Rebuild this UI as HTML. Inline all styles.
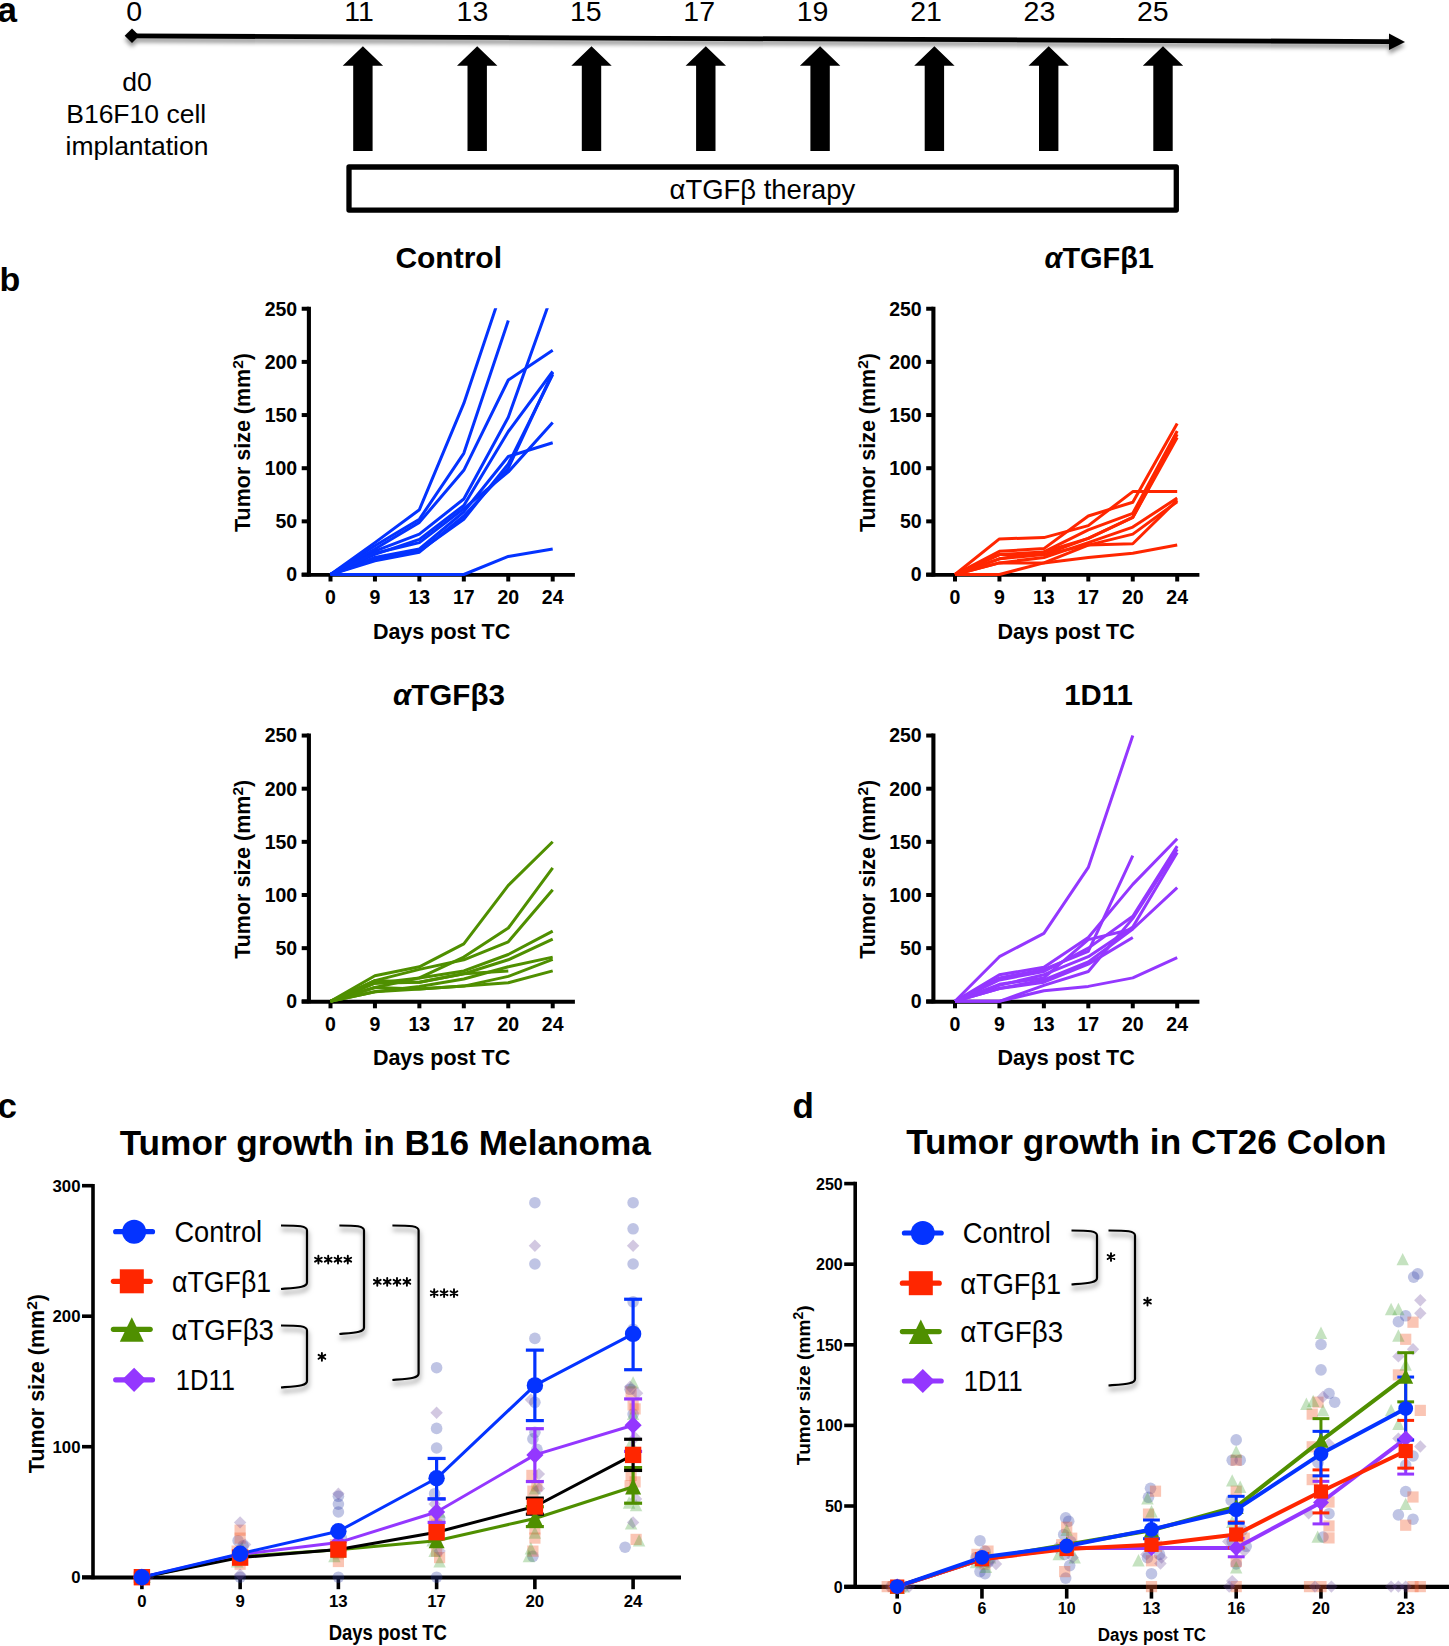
<!DOCTYPE html><html><head><meta charset="utf-8"><style>html,body{margin:0;padding:0;background:#fff;}svg{display:block;}</style></head><body>
<svg width="1449" height="1646" viewBox="0 0 1449 1646" font-family='"Liberation Sans", sans-serif'>
<defs><filter id="sh" x="-5%" y="-100%" width="110%" height="400%"><feDropShadow dx="0" dy="4" stdDeviation="2.3" flood-color="#000" flood-opacity="0.42"/></filter><filter id="sh2" x="-50%" y="-20%" width="200%" height="150%"><feDropShadow dx="0.5" dy="4" stdDeviation="2.6" flood-color="#000" flood-opacity="0.5"/></filter></defs>
<rect width="1449" height="1646" fill="#fff"/>
<text x="-2.50" y="21.70" font-size="35" font-weight="bold" text-anchor="start" fill="#000" >a</text>
<g filter="url(#sh)">
<path d="M132,35.9 L1390,41.6" stroke="#000" stroke-width="4.8" fill="none"/>
<path d="M1389,33.6 L1405,42 L1389,50 Z" fill="#000"/>
<path d="M132,28.6 L139.3,35.8 L132,43 L124.7,35.8 Z" fill="#000"/>
</g>
<path d="M362.9,46.2 L383.1,65.7 L372.6,65.7 L372.6,150.9 L353.2,150.9 L353.2,65.7 L342.7,65.7 Z" fill="#000"/>
<path d="M477.2,46.2 L497.4,65.7 L486.9,65.7 L486.9,150.9 L467.5,150.9 L467.5,65.7 L457.0,65.7 Z" fill="#000"/>
<path d="M591.5,46.2 L611.7,65.7 L601.2,65.7 L601.2,150.9 L581.8,150.9 L581.8,65.7 L571.3,65.7 Z" fill="#000"/>
<path d="M705.8,46.2 L726.0,65.7 L715.5,65.7 L715.5,150.9 L696.1,150.9 L696.1,65.7 L685.6,65.7 Z" fill="#000"/>
<path d="M820.1,46.2 L840.3,65.7 L829.8,65.7 L829.8,150.9 L810.4,150.9 L810.4,65.7 L799.9,65.7 Z" fill="#000"/>
<path d="M934.4,46.2 L954.6,65.7 L944.1,65.7 L944.1,150.9 L924.7,150.9 L924.7,65.7 L914.2,65.7 Z" fill="#000"/>
<path d="M1048.7,46.2 L1068.9,65.7 L1058.4,65.7 L1058.4,150.9 L1039.0,150.9 L1039.0,65.7 L1028.5,65.7 Z" fill="#000"/>
<path d="M1163.0,46.2 L1183.2,65.7 L1172.7,65.7 L1172.7,150.9 L1153.3,150.9 L1153.3,65.7 L1142.8,65.7 Z" fill="#000"/>
<rect x="349" y="167" width="827.3" height="43.1" fill="none" stroke="#000" stroke-width="5.3" stroke-linejoin="round"/>
<text x="134.20" y="21.30" font-size="28.5" font-weight="normal" text-anchor="middle" fill="#000" >0</text>
<text x="359.00" y="21.30" font-size="28.5" font-weight="normal" text-anchor="middle" fill="#000" >11</text>
<text x="472.40" y="21.30" font-size="28.5" font-weight="normal" text-anchor="middle" fill="#000" >13</text>
<text x="585.80" y="21.30" font-size="28.5" font-weight="normal" text-anchor="middle" fill="#000" >15</text>
<text x="699.20" y="21.30" font-size="28.5" font-weight="normal" text-anchor="middle" fill="#000" >17</text>
<text x="812.60" y="21.30" font-size="28.5" font-weight="normal" text-anchor="middle" fill="#000" >19</text>
<text x="926.00" y="21.30" font-size="28.5" font-weight="normal" text-anchor="middle" fill="#000" >21</text>
<text x="1039.40" y="21.30" font-size="28.5" font-weight="normal" text-anchor="middle" fill="#000" >23</text>
<text x="1152.80" y="21.30" font-size="28.5" font-weight="normal" text-anchor="middle" fill="#000" >25</text>
<text x="137.00" y="91.00" font-size="26.5" font-weight="normal" text-anchor="middle" fill="#000" >d0</text>
<text x="136.20" y="123.00" font-size="26.5" font-weight="normal" text-anchor="middle" fill="#000" >B16F10 cell</text>
<text x="137.00" y="154.50" font-size="26.5" font-weight="normal" text-anchor="middle" fill="#000" >implantation</text>
<text x="762.40" y="199.20" font-size="28" font-weight="normal" text-anchor="middle" fill="#000" textLength="185.8" lengthAdjust="spacingAndGlyphs" >αTGFβ therapy</text>
<text x="-0.50" y="290.80" font-size="34" font-weight="bold" text-anchor="start" fill="#000" >b</text>
<clipPath id="c1"><rect x="300.5" y="308.2" width="300" height="275.8"/></clipPath>
<line x1="308.90" y1="306.75" x2="308.90" y2="576.50" stroke="#000" stroke-width="4.1" stroke-linecap="butt" />
<line x1="301.70" y1="574.90" x2="574.90" y2="574.90" stroke="#000" stroke-width="3.9" stroke-linecap="butt" />
<line x1="301.70" y1="574.50" x2="308.90" y2="574.50" stroke="#000" stroke-width="4" stroke-linecap="butt" />
<text x="297.20" y="581.40" font-size="19.5" font-weight="bold" text-anchor="end" fill="#000" >0</text>
<line x1="301.70" y1="521.35" x2="308.90" y2="521.35" stroke="#000" stroke-width="4" stroke-linecap="butt" />
<text x="297.20" y="528.25" font-size="19.5" font-weight="bold" text-anchor="end" fill="#000" >50</text>
<line x1="301.70" y1="468.20" x2="308.90" y2="468.20" stroke="#000" stroke-width="4" stroke-linecap="butt" />
<text x="297.20" y="475.10" font-size="19.5" font-weight="bold" text-anchor="end" fill="#000" >100</text>
<line x1="301.70" y1="415.05" x2="308.90" y2="415.05" stroke="#000" stroke-width="4" stroke-linecap="butt" />
<text x="297.20" y="421.95" font-size="19.5" font-weight="bold" text-anchor="end" fill="#000" >150</text>
<line x1="301.70" y1="361.90" x2="308.90" y2="361.90" stroke="#000" stroke-width="4" stroke-linecap="butt" />
<text x="297.20" y="368.80" font-size="19.5" font-weight="bold" text-anchor="end" fill="#000" >200</text>
<line x1="301.70" y1="308.75" x2="308.90" y2="308.75" stroke="#000" stroke-width="4" stroke-linecap="butt" />
<text x="297.20" y="315.65" font-size="19.5" font-weight="bold" text-anchor="end" fill="#000" >250</text>
<line x1="330.50" y1="574.50" x2="330.50" y2="581.50" stroke="#000" stroke-width="4" stroke-linecap="butt" />
<text x="330.50" y="603.80" font-size="19.5" font-weight="bold" text-anchor="middle" fill="#000" >0</text>
<line x1="374.94" y1="574.50" x2="374.94" y2="581.50" stroke="#000" stroke-width="4" stroke-linecap="butt" />
<text x="374.94" y="603.80" font-size="19.5" font-weight="bold" text-anchor="middle" fill="#000" >9</text>
<line x1="419.38" y1="574.50" x2="419.38" y2="581.50" stroke="#000" stroke-width="4" stroke-linecap="butt" />
<text x="419.38" y="603.80" font-size="19.5" font-weight="bold" text-anchor="middle" fill="#000" >13</text>
<line x1="463.82" y1="574.50" x2="463.82" y2="581.50" stroke="#000" stroke-width="4" stroke-linecap="butt" />
<text x="463.82" y="603.80" font-size="19.5" font-weight="bold" text-anchor="middle" fill="#000" >17</text>
<line x1="508.26" y1="574.50" x2="508.26" y2="581.50" stroke="#000" stroke-width="4" stroke-linecap="butt" />
<text x="508.26" y="603.80" font-size="19.5" font-weight="bold" text-anchor="middle" fill="#000" >20</text>
<line x1="552.70" y1="574.50" x2="552.70" y2="581.50" stroke="#000" stroke-width="4" stroke-linecap="butt" />
<text x="552.70" y="603.80" font-size="19.5" font-weight="bold" text-anchor="middle" fill="#000" >24</text>
<g clip-path="url(#c1)" fill="none" stroke="#0433FF" stroke-width="3" stroke-linejoin="round">
<polyline points="330.5,574.5 374.9,542.6 419.4,509.7 463.8,403.4 508.3,270.5"/>
<polyline points="330.5,574.5 374.9,545.8 419.4,519.2 463.8,453.3 508.3,320.4"/>
<polyline points="330.5,574.5 374.9,551.1 419.4,534.1 463.8,499.0 508.3,417.2 552.7,292.8"/>
<polyline points="330.5,574.5 374.9,549.0 419.4,522.4 463.8,470.3 508.3,380.0 552.7,350.2"/>
<polyline points="330.5,574.5 374.9,554.3 419.4,539.4 463.8,505.4 508.3,431.5 552.7,371.5"/>
<polyline points="330.5,574.5 374.9,557.5 419.4,549.0 463.8,511.8 508.3,456.5 552.7,442.7"/>
<polyline points="330.5,574.5 374.9,559.6 419.4,551.1 463.8,519.2 508.3,463.9 552.7,374.7"/>
<polyline points="330.5,574.5 374.9,553.2 419.4,542.6 463.8,508.6 508.3,471.9 552.7,422.5"/>
<polyline points="330.5,574.5 374.9,574.5 419.4,574.5 463.8,574.5 508.3,556.4 552.7,549.0"/>
<polyline points="330.5,574.5 374.9,560.7 419.4,552.2 463.8,516.0 508.3,468.2 552.7,372.5"/>
</g>
<text x="448.7" y="268.0" font-size="30" font-weight="bold" text-anchor="middle" fill="#000">Control</text>
<text x="441.60" y="638.50" font-size="21.5" font-weight="bold" text-anchor="middle" fill="#000" >Days post TC</text>
<text transform="translate(250.4,442.5) rotate(-90)" font-size="21.5" font-weight="bold" text-anchor="middle" fill="#000">Tumor size (mm<tspan font-size="15.5" dy="-7">2</tspan><tspan dy="7">)</tspan></text>
<clipPath id="c2"><rect x="925.0" y="308.2" width="300" height="275.8"/></clipPath>
<line x1="933.40" y1="306.75" x2="933.40" y2="576.50" stroke="#000" stroke-width="4.1" stroke-linecap="butt" />
<line x1="926.20" y1="574.90" x2="1199.40" y2="574.90" stroke="#000" stroke-width="3.9" stroke-linecap="butt" />
<line x1="926.20" y1="574.50" x2="933.40" y2="574.50" stroke="#000" stroke-width="4" stroke-linecap="butt" />
<text x="921.70" y="581.40" font-size="19.5" font-weight="bold" text-anchor="end" fill="#000" >0</text>
<line x1="926.20" y1="521.35" x2="933.40" y2="521.35" stroke="#000" stroke-width="4" stroke-linecap="butt" />
<text x="921.70" y="528.25" font-size="19.5" font-weight="bold" text-anchor="end" fill="#000" >50</text>
<line x1="926.20" y1="468.20" x2="933.40" y2="468.20" stroke="#000" stroke-width="4" stroke-linecap="butt" />
<text x="921.70" y="475.10" font-size="19.5" font-weight="bold" text-anchor="end" fill="#000" >100</text>
<line x1="926.20" y1="415.05" x2="933.40" y2="415.05" stroke="#000" stroke-width="4" stroke-linecap="butt" />
<text x="921.70" y="421.95" font-size="19.5" font-weight="bold" text-anchor="end" fill="#000" >150</text>
<line x1="926.20" y1="361.90" x2="933.40" y2="361.90" stroke="#000" stroke-width="4" stroke-linecap="butt" />
<text x="921.70" y="368.80" font-size="19.5" font-weight="bold" text-anchor="end" fill="#000" >200</text>
<line x1="926.20" y1="308.75" x2="933.40" y2="308.75" stroke="#000" stroke-width="4" stroke-linecap="butt" />
<text x="921.70" y="315.65" font-size="19.5" font-weight="bold" text-anchor="end" fill="#000" >250</text>
<line x1="955.00" y1="574.50" x2="955.00" y2="581.50" stroke="#000" stroke-width="4" stroke-linecap="butt" />
<text x="955.00" y="603.80" font-size="19.5" font-weight="bold" text-anchor="middle" fill="#000" >0</text>
<line x1="999.44" y1="574.50" x2="999.44" y2="581.50" stroke="#000" stroke-width="4" stroke-linecap="butt" />
<text x="999.44" y="603.80" font-size="19.5" font-weight="bold" text-anchor="middle" fill="#000" >9</text>
<line x1="1043.88" y1="574.50" x2="1043.88" y2="581.50" stroke="#000" stroke-width="4" stroke-linecap="butt" />
<text x="1043.88" y="603.80" font-size="19.5" font-weight="bold" text-anchor="middle" fill="#000" >13</text>
<line x1="1088.32" y1="574.50" x2="1088.32" y2="581.50" stroke="#000" stroke-width="4" stroke-linecap="butt" />
<text x="1088.32" y="603.80" font-size="19.5" font-weight="bold" text-anchor="middle" fill="#000" >17</text>
<line x1="1132.76" y1="574.50" x2="1132.76" y2="581.50" stroke="#000" stroke-width="4" stroke-linecap="butt" />
<text x="1132.76" y="603.80" font-size="19.5" font-weight="bold" text-anchor="middle" fill="#000" >20</text>
<line x1="1177.20" y1="574.50" x2="1177.20" y2="581.50" stroke="#000" stroke-width="4" stroke-linecap="butt" />
<text x="1177.20" y="603.80" font-size="19.5" font-weight="bold" text-anchor="middle" fill="#000" >24</text>
<g clip-path="url(#c2)" fill="none" stroke="#FF2600" stroke-width="3" stroke-linejoin="round">
<polyline points="955.0,574.5 999.4,538.9 1043.9,537.6 1088.3,525.6 1132.8,491.6 1177.2,491.6"/>
<polyline points="955.0,574.5 999.4,551.3 1043.9,548.6 1088.3,516.0 1132.8,502.2 1177.2,423.6"/>
<polyline points="955.0,574.5 999.4,554.6 1043.9,551.9 1088.3,529.9 1132.8,513.3 1177.2,431.0"/>
<polyline points="955.0,574.5 999.4,558.8 1043.9,554.6 1088.3,538.4 1132.8,517.4 1177.2,437.4"/>
<polyline points="955.0,574.5 999.4,562.9 1043.9,557.5 1088.3,542.6 1132.8,527.1 1177.2,498.0"/>
<polyline points="955.0,574.5 999.4,554.6 1043.9,554.6 1088.3,545.1 1132.8,534.1 1177.2,501.7"/>
<polyline points="955.0,574.5 999.4,574.5 1043.9,562.9 1088.3,545.1 1132.8,543.7 1177.2,500.1"/>
<polyline points="955.0,574.5 999.4,562.9 1043.9,562.9 1088.3,557.5 1132.8,553.2 1177.2,545.1"/>
<polyline points="955.0,574.5 999.4,558.8 1043.9,551.9 1088.3,538.4 1132.8,517.4 1177.2,434.2"/>
</g>
<text x="1099.2" y="267.6" font-size="30" font-weight="bold" text-anchor="middle" fill="#000" textLength="109.5" lengthAdjust="spacingAndGlyphs"><tspan font-style="italic">α</tspan>TGFβ1</text>
<text x="1066.10" y="638.50" font-size="21.5" font-weight="bold" text-anchor="middle" fill="#000" >Days post TC</text>
<text transform="translate(874.9,442.5) rotate(-90)" font-size="21.5" font-weight="bold" text-anchor="middle" fill="#000">Tumor size (mm<tspan font-size="15.5" dy="-7">2</tspan><tspan dy="7">)</tspan></text>
<clipPath id="c3"><rect x="300.5" y="735.0" width="300" height="275.8"/></clipPath>
<line x1="308.90" y1="733.55" x2="308.90" y2="1003.30" stroke="#000" stroke-width="4.1" stroke-linecap="butt" />
<line x1="301.70" y1="1001.70" x2="574.90" y2="1001.70" stroke="#000" stroke-width="3.9" stroke-linecap="butt" />
<line x1="301.70" y1="1001.30" x2="308.90" y2="1001.30" stroke="#000" stroke-width="4" stroke-linecap="butt" />
<text x="297.20" y="1008.20" font-size="19.5" font-weight="bold" text-anchor="end" fill="#000" >0</text>
<line x1="301.70" y1="948.15" x2="308.90" y2="948.15" stroke="#000" stroke-width="4" stroke-linecap="butt" />
<text x="297.20" y="955.05" font-size="19.5" font-weight="bold" text-anchor="end" fill="#000" >50</text>
<line x1="301.70" y1="895.00" x2="308.90" y2="895.00" stroke="#000" stroke-width="4" stroke-linecap="butt" />
<text x="297.20" y="901.90" font-size="19.5" font-weight="bold" text-anchor="end" fill="#000" >100</text>
<line x1="301.70" y1="841.85" x2="308.90" y2="841.85" stroke="#000" stroke-width="4" stroke-linecap="butt" />
<text x="297.20" y="848.75" font-size="19.5" font-weight="bold" text-anchor="end" fill="#000" >150</text>
<line x1="301.70" y1="788.70" x2="308.90" y2="788.70" stroke="#000" stroke-width="4" stroke-linecap="butt" />
<text x="297.20" y="795.60" font-size="19.5" font-weight="bold" text-anchor="end" fill="#000" >200</text>
<line x1="301.70" y1="735.55" x2="308.90" y2="735.55" stroke="#000" stroke-width="4" stroke-linecap="butt" />
<text x="297.20" y="742.45" font-size="19.5" font-weight="bold" text-anchor="end" fill="#000" >250</text>
<line x1="330.50" y1="1001.30" x2="330.50" y2="1008.30" stroke="#000" stroke-width="4" stroke-linecap="butt" />
<text x="330.50" y="1030.60" font-size="19.5" font-weight="bold" text-anchor="middle" fill="#000" >0</text>
<line x1="374.94" y1="1001.30" x2="374.94" y2="1008.30" stroke="#000" stroke-width="4" stroke-linecap="butt" />
<text x="374.94" y="1030.60" font-size="19.5" font-weight="bold" text-anchor="middle" fill="#000" >9</text>
<line x1="419.38" y1="1001.30" x2="419.38" y2="1008.30" stroke="#000" stroke-width="4" stroke-linecap="butt" />
<text x="419.38" y="1030.60" font-size="19.5" font-weight="bold" text-anchor="middle" fill="#000" >13</text>
<line x1="463.82" y1="1001.30" x2="463.82" y2="1008.30" stroke="#000" stroke-width="4" stroke-linecap="butt" />
<text x="463.82" y="1030.60" font-size="19.5" font-weight="bold" text-anchor="middle" fill="#000" >17</text>
<line x1="508.26" y1="1001.30" x2="508.26" y2="1008.30" stroke="#000" stroke-width="4" stroke-linecap="butt" />
<text x="508.26" y="1030.60" font-size="19.5" font-weight="bold" text-anchor="middle" fill="#000" >20</text>
<line x1="552.70" y1="1001.30" x2="552.70" y2="1008.30" stroke="#000" stroke-width="4" stroke-linecap="butt" />
<text x="552.70" y="1030.60" font-size="19.5" font-weight="bold" text-anchor="middle" fill="#000" >24</text>
<g clip-path="url(#c3)" fill="none" stroke="#4F8F00" stroke-width="3" stroke-linejoin="round">
<polyline points="330.5,1001.3 374.9,975.8 419.4,966.8 463.8,943.9 508.3,885.4 552.7,841.8"/>
<polyline points="330.5,1001.3 374.9,980.6 419.4,969.4 463.8,959.8 508.3,941.8 552.7,889.7"/>
<polyline points="330.5,1001.3 374.9,983.2 419.4,977.9 463.8,957.1 508.3,928.0 552.7,867.9"/>
<polyline points="330.5,1001.3 374.9,987.5 419.4,977.9 463.8,970.9 508.3,954.5 552.7,931.1"/>
<polyline points="330.5,1001.3 374.9,983.2 419.4,982.2 463.8,973.7 508.3,959.8 552.7,939.1"/>
<polyline points="330.5,1001.3 374.9,991.7 419.4,986.4 463.8,979.0 508.3,966.8 552.7,957.1"/>
<polyline points="330.5,1001.3 374.9,987.5 419.4,988.9 463.8,986.1 508.3,976.4 552.7,959.3"/>
<polyline points="330.5,1001.3 374.9,991.7 419.4,988.9 463.8,986.1 508.3,982.8 552.7,970.9"/>
<polyline points="330.5,1001.3 374.9,980.6 419.4,982.2 463.8,973.7 508.3,970.9"/>
</g>
<text x="448.9" y="705.0" font-size="30" font-weight="bold" text-anchor="middle" fill="#000" textLength="112" lengthAdjust="spacingAndGlyphs"><tspan font-style="italic">α</tspan>TGFβ3</text>
<text x="441.60" y="1065.30" font-size="21.5" font-weight="bold" text-anchor="middle" fill="#000" >Days post TC</text>
<text transform="translate(250.4,869.3) rotate(-90)" font-size="21.5" font-weight="bold" text-anchor="middle" fill="#000">Tumor size (mm<tspan font-size="15.5" dy="-7">2</tspan><tspan dy="7">)</tspan></text>
<clipPath id="c4"><rect x="925.0" y="735.0" width="300" height="275.8"/></clipPath>
<line x1="933.40" y1="733.55" x2="933.40" y2="1003.30" stroke="#000" stroke-width="4.1" stroke-linecap="butt" />
<line x1="926.20" y1="1001.70" x2="1199.40" y2="1001.70" stroke="#000" stroke-width="3.9" stroke-linecap="butt" />
<line x1="926.20" y1="1001.30" x2="933.40" y2="1001.30" stroke="#000" stroke-width="4" stroke-linecap="butt" />
<text x="921.70" y="1008.20" font-size="19.5" font-weight="bold" text-anchor="end" fill="#000" >0</text>
<line x1="926.20" y1="948.15" x2="933.40" y2="948.15" stroke="#000" stroke-width="4" stroke-linecap="butt" />
<text x="921.70" y="955.05" font-size="19.5" font-weight="bold" text-anchor="end" fill="#000" >50</text>
<line x1="926.20" y1="895.00" x2="933.40" y2="895.00" stroke="#000" stroke-width="4" stroke-linecap="butt" />
<text x="921.70" y="901.90" font-size="19.5" font-weight="bold" text-anchor="end" fill="#000" >100</text>
<line x1="926.20" y1="841.85" x2="933.40" y2="841.85" stroke="#000" stroke-width="4" stroke-linecap="butt" />
<text x="921.70" y="848.75" font-size="19.5" font-weight="bold" text-anchor="end" fill="#000" >150</text>
<line x1="926.20" y1="788.70" x2="933.40" y2="788.70" stroke="#000" stroke-width="4" stroke-linecap="butt" />
<text x="921.70" y="795.60" font-size="19.5" font-weight="bold" text-anchor="end" fill="#000" >200</text>
<line x1="926.20" y1="735.55" x2="933.40" y2="735.55" stroke="#000" stroke-width="4" stroke-linecap="butt" />
<text x="921.70" y="742.45" font-size="19.5" font-weight="bold" text-anchor="end" fill="#000" >250</text>
<line x1="955.00" y1="1001.30" x2="955.00" y2="1008.30" stroke="#000" stroke-width="4" stroke-linecap="butt" />
<text x="955.00" y="1030.60" font-size="19.5" font-weight="bold" text-anchor="middle" fill="#000" >0</text>
<line x1="999.44" y1="1001.30" x2="999.44" y2="1008.30" stroke="#000" stroke-width="4" stroke-linecap="butt" />
<text x="999.44" y="1030.60" font-size="19.5" font-weight="bold" text-anchor="middle" fill="#000" >9</text>
<line x1="1043.88" y1="1001.30" x2="1043.88" y2="1008.30" stroke="#000" stroke-width="4" stroke-linecap="butt" />
<text x="1043.88" y="1030.60" font-size="19.5" font-weight="bold" text-anchor="middle" fill="#000" >13</text>
<line x1="1088.32" y1="1001.30" x2="1088.32" y2="1008.30" stroke="#000" stroke-width="4" stroke-linecap="butt" />
<text x="1088.32" y="1030.60" font-size="19.5" font-weight="bold" text-anchor="middle" fill="#000" >17</text>
<line x1="1132.76" y1="1001.30" x2="1132.76" y2="1008.30" stroke="#000" stroke-width="4" stroke-linecap="butt" />
<text x="1132.76" y="1030.60" font-size="19.5" font-weight="bold" text-anchor="middle" fill="#000" >20</text>
<line x1="1177.20" y1="1001.30" x2="1177.20" y2="1008.30" stroke="#000" stroke-width="4" stroke-linecap="butt" />
<text x="1177.20" y="1030.60" font-size="19.5" font-weight="bold" text-anchor="middle" fill="#000" >24</text>
<g clip-path="url(#c4)" fill="none" stroke="#9437FF" stroke-width="3" stroke-linejoin="round">
<polyline points="955.0,1001.3 999.4,956.7 1043.9,933.3 1088.3,867.4 1132.8,735.5"/>
<polyline points="955.0,1001.3 999.4,974.7 1043.9,967.3 1088.3,937.5 1132.8,884.4 1177.2,838.7"/>
<polyline points="955.0,1001.3 999.4,977.9 1043.9,969.4 1088.3,951.3 1132.8,855.7"/>
<polyline points="955.0,1001.3 999.4,980.0 1043.9,971.5 1088.3,948.1 1132.8,916.3 1177.2,846.1"/>
<polyline points="955.0,1001.3 999.4,985.4 1043.9,974.7 1088.3,956.7 1132.8,926.9 1177.2,852.5"/>
<polyline points="955.0,1001.3 999.4,988.5 1043.9,980.0 1088.3,962.0 1132.8,929.0 1177.2,887.6"/>
<polyline points="955.0,1001.3 999.4,988.5 1043.9,982.2 1088.3,964.1 1132.8,937.5"/>
<polyline points="955.0,1001.3 999.4,1001.3 1043.9,985.4 1088.3,971.5 1132.8,918.4 1177.2,849.3"/>
<polyline points="955.0,1001.3 999.4,1001.3 1043.9,990.7 1088.3,986.4 1132.8,977.9 1177.2,957.7"/>
<polyline points="955.0,1001.3 999.4,984.3 1043.9,977.9 1088.3,939.6 1132.8,929.0"/>
</g>
<text x="1098.5" y="705.0" font-size="30" font-weight="bold" text-anchor="middle" fill="#000" textLength="68.5" lengthAdjust="spacingAndGlyphs">1D11</text>
<text x="1066.10" y="1065.30" font-size="21.5" font-weight="bold" text-anchor="middle" fill="#000" >Days post TC</text>
<text transform="translate(874.9,869.3) rotate(-90)" font-size="21.5" font-weight="bold" text-anchor="middle" fill="#000">Tumor size (mm<tspan font-size="15.5" dy="-7">2</tspan><tspan dy="7">)</tspan></text>
<text x="-2.50" y="1117.50" font-size="35" font-weight="bold" text-anchor="start" fill="#000" >c</text>
<text x="385.30" y="1155.00" font-size="35.2" font-weight="bold" text-anchor="middle" fill="#000" >Tumor growth in B16 Melanoma</text>
<line x1="93.00" y1="1183.90" x2="93.00" y2="1579.20" stroke="#000" stroke-width="3.6" stroke-linecap="butt" />
<line x1="82.00" y1="1577.50" x2="681.00" y2="1577.50" stroke="#000" stroke-width="4.2" stroke-linecap="butt" />
<line x1="82.00" y1="1577.20" x2="93.00" y2="1577.20" stroke="#000" stroke-width="3.6" stroke-linecap="butt" />
<text x="80.50" y="1583.20" font-size="16.8" font-weight="bold" text-anchor="end" fill="#000" >0</text>
<line x1="82.00" y1="1446.70" x2="93.00" y2="1446.70" stroke="#000" stroke-width="3.6" stroke-linecap="butt" />
<text x="80.50" y="1452.70" font-size="16.8" font-weight="bold" text-anchor="end" fill="#000" >100</text>
<line x1="82.00" y1="1316.20" x2="93.00" y2="1316.20" stroke="#000" stroke-width="3.6" stroke-linecap="butt" />
<text x="80.50" y="1322.20" font-size="16.8" font-weight="bold" text-anchor="end" fill="#000" >200</text>
<line x1="82.00" y1="1185.70" x2="93.00" y2="1185.70" stroke="#000" stroke-width="3.6" stroke-linecap="butt" />
<text x="80.50" y="1191.70" font-size="16.8" font-weight="bold" text-anchor="end" fill="#000" >300</text>
<line x1="141.90" y1="1577.20" x2="141.90" y2="1589.20" stroke="#000" stroke-width="3.6" stroke-linecap="butt" />
<text x="141.90" y="1606.70" font-size="16.8" font-weight="bold" text-anchor="middle" fill="#000" >0</text>
<line x1="240.14" y1="1577.20" x2="240.14" y2="1589.20" stroke="#000" stroke-width="3.6" stroke-linecap="butt" />
<text x="240.14" y="1606.70" font-size="16.8" font-weight="bold" text-anchor="middle" fill="#000" >9</text>
<line x1="338.38" y1="1577.20" x2="338.38" y2="1589.20" stroke="#000" stroke-width="3.6" stroke-linecap="butt" />
<text x="338.38" y="1606.70" font-size="16.8" font-weight="bold" text-anchor="middle" fill="#000" >13</text>
<line x1="436.62" y1="1577.20" x2="436.62" y2="1589.20" stroke="#000" stroke-width="3.6" stroke-linecap="butt" />
<text x="436.62" y="1606.70" font-size="16.8" font-weight="bold" text-anchor="middle" fill="#000" >17</text>
<line x1="534.86" y1="1577.20" x2="534.86" y2="1589.20" stroke="#000" stroke-width="3.6" stroke-linecap="butt" />
<text x="534.86" y="1606.70" font-size="16.8" font-weight="bold" text-anchor="middle" fill="#000" >20</text>
<line x1="633.10" y1="1577.20" x2="633.10" y2="1589.20" stroke="#000" stroke-width="3.6" stroke-linecap="butt" />
<text x="633.10" y="1606.70" font-size="16.8" font-weight="bold" text-anchor="middle" fill="#000" >24</text>
<circle cx="138.9" cy="1577.2" r="5.8" fill="#3040A8" fill-opacity="0.31"/>
<circle cx="240.1" cy="1551.1" r="5.8" fill="#3040A8" fill-opacity="0.31"/>
<circle cx="238.1" cy="1540.7" r="5.8" fill="#3040A8" fill-opacity="0.31"/>
<circle cx="243.1" cy="1545.9" r="5.8" fill="#3040A8" fill-opacity="0.31"/>
<circle cx="240.1" cy="1577.2" r="5.8" fill="#3040A8" fill-opacity="0.31"/>
<circle cx="338.4" cy="1496.3" r="5.8" fill="#3040A8" fill-opacity="0.31"/>
<circle cx="338.4" cy="1504.1" r="5.8" fill="#3040A8" fill-opacity="0.31"/>
<circle cx="338.4" cy="1512.0" r="5.8" fill="#3040A8" fill-opacity="0.31"/>
<circle cx="338.4" cy="1577.2" r="5.8" fill="#3040A8" fill-opacity="0.31"/>
<circle cx="341.4" cy="1538.0" r="5.8" fill="#3040A8" fill-opacity="0.31"/>
<circle cx="436.6" cy="1367.7" r="5.8" fill="#3040A8" fill-opacity="0.31"/>
<circle cx="436.6" cy="1428.4" r="5.8" fill="#3040A8" fill-opacity="0.31"/>
<circle cx="436.6" cy="1448.0" r="5.8" fill="#3040A8" fill-opacity="0.31"/>
<circle cx="434.6" cy="1493.7" r="5.8" fill="#3040A8" fill-opacity="0.31"/>
<circle cx="436.6" cy="1577.2" r="5.8" fill="#3040A8" fill-opacity="0.31"/>
<circle cx="439.6" cy="1518.5" r="5.8" fill="#3040A8" fill-opacity="0.31"/>
<circle cx="534.9" cy="1202.7" r="5.8" fill="#3040A8" fill-opacity="0.31"/>
<circle cx="534.9" cy="1264.0" r="5.8" fill="#3040A8" fill-opacity="0.31"/>
<circle cx="534.9" cy="1338.4" r="5.8" fill="#3040A8" fill-opacity="0.31"/>
<circle cx="534.9" cy="1402.3" r="5.8" fill="#3040A8" fill-opacity="0.31"/>
<circle cx="534.9" cy="1432.3" r="5.8" fill="#3040A8" fill-opacity="0.31"/>
<circle cx="532.9" cy="1438.9" r="5.8" fill="#3040A8" fill-opacity="0.31"/>
<circle cx="536.9" cy="1449.3" r="5.8" fill="#3040A8" fill-opacity="0.31"/>
<circle cx="532.9" cy="1556.3" r="5.8" fill="#3040A8" fill-opacity="0.31"/>
<circle cx="633.1" cy="1202.7" r="5.8" fill="#3040A8" fill-opacity="0.31"/>
<circle cx="633.1" cy="1228.8" r="5.8" fill="#3040A8" fill-opacity="0.31"/>
<circle cx="633.1" cy="1264.0" r="5.8" fill="#3040A8" fill-opacity="0.31"/>
<circle cx="633.1" cy="1301.8" r="5.8" fill="#3040A8" fill-opacity="0.31"/>
<circle cx="633.1" cy="1329.2" r="5.8" fill="#3040A8" fill-opacity="0.31"/>
<circle cx="630.1" cy="1389.3" r="5.8" fill="#3040A8" fill-opacity="0.31"/>
<circle cx="633.1" cy="1414.1" r="5.8" fill="#3040A8" fill-opacity="0.31"/>
<circle cx="625.1" cy="1547.2" r="5.8" fill="#3040A8" fill-opacity="0.31"/>
<rect x="133.3" y="1571.6" width="11.2" height="11.2" fill="#F05A28" fill-opacity="0.35"/>
<rect x="234.5" y="1524.6" width="11.2" height="11.2" fill="#F05A28" fill-opacity="0.35"/>
<rect x="234.5" y="1532.5" width="11.2" height="11.2" fill="#F05A28" fill-opacity="0.35"/>
<rect x="234.5" y="1558.6" width="11.2" height="11.2" fill="#F05A28" fill-opacity="0.35"/>
<rect x="231.5" y="1545.5" width="11.2" height="11.2" fill="#F05A28" fill-opacity="0.35"/>
<rect x="332.8" y="1548.1" width="11.2" height="11.2" fill="#F05A28" fill-opacity="0.35"/>
<rect x="332.8" y="1555.9" width="11.2" height="11.2" fill="#F05A28" fill-opacity="0.35"/>
<rect x="329.8" y="1539.0" width="11.2" height="11.2" fill="#F05A28" fill-opacity="0.35"/>
<rect x="429.0" y="1511.6" width="11.2" height="11.2" fill="#F05A28" fill-opacity="0.35"/>
<rect x="431.0" y="1519.4" width="11.2" height="11.2" fill="#F05A28" fill-opacity="0.35"/>
<rect x="431.0" y="1545.5" width="11.2" height="11.2" fill="#F05A28" fill-opacity="0.35"/>
<rect x="434.0" y="1552.0" width="11.2" height="11.2" fill="#F05A28" fill-opacity="0.35"/>
<rect x="526.3" y="1469.8" width="11.2" height="11.2" fill="#F05A28" fill-opacity="0.35"/>
<rect x="527.3" y="1485.5" width="11.2" height="11.2" fill="#F05A28" fill-opacity="0.35"/>
<rect x="529.3" y="1523.3" width="11.2" height="11.2" fill="#F05A28" fill-opacity="0.35"/>
<rect x="529.3" y="1532.5" width="11.2" height="11.2" fill="#F05A28" fill-opacity="0.35"/>
<rect x="527.3" y="1545.5" width="11.2" height="11.2" fill="#F05A28" fill-opacity="0.35"/>
<rect x="531.3" y="1480.3" width="11.2" height="11.2" fill="#F05A28" fill-opacity="0.35"/>
<rect x="625.5" y="1386.3" width="11.2" height="11.2" fill="#F05A28" fill-opacity="0.35"/>
<rect x="627.5" y="1399.3" width="11.2" height="11.2" fill="#F05A28" fill-opacity="0.35"/>
<rect x="629.5" y="1403.3" width="11.2" height="11.2" fill="#F05A28" fill-opacity="0.35"/>
<rect x="625.5" y="1469.8" width="11.2" height="11.2" fill="#F05A28" fill-opacity="0.35"/>
<rect x="629.5" y="1476.3" width="11.2" height="11.2" fill="#F05A28" fill-opacity="0.35"/>
<rect x="624.5" y="1480.3" width="11.2" height="11.2" fill="#F05A28" fill-opacity="0.35"/>
<rect x="630.5" y="1533.8" width="11.2" height="11.2" fill="#F05A28" fill-opacity="0.35"/>
<path d="M144.9,1570.7 L151.1,1583.1 L138.7,1583.1 Z" fill="#40A030" fill-opacity="0.3"/>
<path d="M237.1,1555.0 L243.3,1567.4 L230.9,1567.4 Z" fill="#40A030" fill-opacity="0.3"/>
<path d="M242.1,1542.0 L248.3,1554.4 L235.9,1554.4 Z" fill="#40A030" fill-opacity="0.3"/>
<path d="M334.4,1549.8 L340.6,1562.2 L328.2,1562.2 Z" fill="#40A030" fill-opacity="0.3"/>
<path d="M341.4,1539.4 L347.6,1551.8 L335.2,1551.8 Z" fill="#40A030" fill-opacity="0.3"/>
<path d="M434.6,1544.6 L440.8,1557.0 L428.4,1557.0 Z" fill="#40A030" fill-opacity="0.3"/>
<path d="M439.6,1555.0 L445.8,1567.4 L433.4,1567.4 Z" fill="#40A030" fill-opacity="0.3"/>
<path d="M432.6,1534.2 L438.8,1546.6 L426.4,1546.6 Z" fill="#40A030" fill-opacity="0.3"/>
<path d="M439.6,1505.4 L445.8,1517.8 L433.4,1517.8 Z" fill="#40A030" fill-opacity="0.3"/>
<path d="M534.9,1482.0 L541.1,1494.4 L528.7,1494.4 Z" fill="#40A030" fill-opacity="0.3"/>
<path d="M534.9,1526.3 L541.1,1538.7 L528.7,1538.7 Z" fill="#40A030" fill-opacity="0.3"/>
<path d="M530.9,1542.0 L537.1,1554.4 L524.7,1554.4 Z" fill="#40A030" fill-opacity="0.3"/>
<path d="M528.9,1549.8 L535.1,1562.2 L522.7,1562.2 Z" fill="#40A030" fill-opacity="0.3"/>
<path d="M633.1,1376.2 L639.3,1388.6 L626.9,1388.6 Z" fill="#40A030" fill-opacity="0.3"/>
<path d="M633.1,1407.6 L639.3,1420.0 L626.9,1420.0 Z" fill="#40A030" fill-opacity="0.3"/>
<path d="M631.1,1436.3 L637.3,1448.7 L624.9,1448.7 Z" fill="#40A030" fill-opacity="0.3"/>
<path d="M629.1,1496.3 L635.3,1508.7 L622.9,1508.7 Z" fill="#40A030" fill-opacity="0.3"/>
<path d="M636.1,1498.9 L642.3,1511.3 L629.9,1511.3 Z" fill="#40A030" fill-opacity="0.3"/>
<path d="M631.1,1517.2 L637.3,1529.6 L624.9,1529.6 Z" fill="#40A030" fill-opacity="0.3"/>
<path d="M639.1,1534.2 L645.3,1546.6 L632.9,1546.6 Z" fill="#40A030" fill-opacity="0.3"/>
<path d="M147.9,1571.0 L154.1,1577.2 L147.9,1583.4 L141.7,1577.2 Z" fill="#6A4A9A" fill-opacity="0.3"/>
<path d="M240.1,1516.2 L246.3,1522.4 L240.1,1528.6 L233.9,1522.4 Z" fill="#6A4A9A" fill-opacity="0.3"/>
<path d="M245.1,1538.4 L251.3,1544.6 L245.1,1550.8 L238.9,1544.6 Z" fill="#6A4A9A" fill-opacity="0.3"/>
<path d="M240.1,1568.4 L246.3,1574.6 L240.1,1580.8 L233.9,1574.6 Z" fill="#6A4A9A" fill-opacity="0.3"/>
<path d="M338.4,1487.5 L344.6,1493.7 L338.4,1499.9 L332.2,1493.7 Z" fill="#6A4A9A" fill-opacity="0.3"/>
<path d="M336.4,1544.9 L342.6,1551.1 L336.4,1557.3 L330.2,1551.1 Z" fill="#6A4A9A" fill-opacity="0.3"/>
<path d="M436.6,1406.6 L442.8,1412.8 L436.6,1419.0 L430.4,1412.8 Z" fill="#6A4A9A" fill-opacity="0.3"/>
<path d="M434.6,1497.9 L440.8,1504.1 L434.6,1510.3 L428.4,1504.1 Z" fill="#6A4A9A" fill-opacity="0.3"/>
<path d="M439.6,1544.9 L445.8,1551.1 L439.6,1557.3 L433.4,1551.1 Z" fill="#6A4A9A" fill-opacity="0.3"/>
<path d="M534.9,1239.5 L541.1,1245.7 L534.9,1251.9 L528.7,1245.7 Z" fill="#6A4A9A" fill-opacity="0.3"/>
<path d="M530.9,1393.5 L537.1,1399.7 L530.9,1405.9 L524.7,1399.7 Z" fill="#6A4A9A" fill-opacity="0.3"/>
<path d="M538.9,1467.9 L545.1,1474.1 L538.9,1480.3 L532.7,1474.1 Z" fill="#6A4A9A" fill-opacity="0.3"/>
<path d="M538.9,1482.3 L545.1,1488.5 L538.9,1494.7 L532.7,1488.5 Z" fill="#6A4A9A" fill-opacity="0.3"/>
<path d="M633.1,1239.5 L639.3,1245.7 L633.1,1251.9 L626.9,1245.7 Z" fill="#6A4A9A" fill-opacity="0.3"/>
<path d="M630.1,1380.5 L636.3,1386.7 L630.1,1392.9 L623.9,1386.7 Z" fill="#6A4A9A" fill-opacity="0.3"/>
<path d="M637.1,1387.0 L643.3,1393.2 L637.1,1399.4 L630.9,1393.2 Z" fill="#6A4A9A" fill-opacity="0.3"/>
<path d="M635.1,1431.4 L641.3,1437.6 L635.1,1443.8 L628.9,1437.6 Z" fill="#6A4A9A" fill-opacity="0.3"/>
<path d="M636.1,1492.7 L642.3,1498.9 L636.1,1505.1 L629.9,1498.9 Z" fill="#6A4A9A" fill-opacity="0.3"/>
<path d="M633.1,1516.2 L639.3,1522.4 L633.1,1528.6 L626.9,1522.4 Z" fill="#6A4A9A" fill-opacity="0.3"/>
<polyline points="141.9,1577.2 240.1,1556.3 338.4,1549.8 436.6,1540.7 534.9,1518.5 633.1,1486.8" fill="none" stroke="#4F8F00" stroke-width="3" stroke-linejoin="round"/>
<polyline points="141.9,1577.2 240.1,1554.4 338.4,1542.6 436.6,1512.0 534.9,1454.9 633.1,1425.2" fill="none" stroke="#9437FF" stroke-width="3" stroke-linejoin="round"/>
<polyline points="141.9,1577.2 240.1,1557.6 338.4,1549.5 436.6,1532.2 534.9,1506.5 633.1,1454.9" fill="none" stroke="#000" stroke-width="3" stroke-linejoin="round"/>
<polyline points="141.9,1577.2 240.1,1553.7 338.4,1531.3 436.6,1478.3 534.9,1385.4 633.1,1333.9" fill="none" stroke="#0433FF" stroke-width="3" stroke-linejoin="round"/>
<line x1="534.86" y1="1526.57" x2="534.86" y2="1506.73" stroke="#4F8F00" stroke-width="3.2" stroke-linecap="butt" />
<line x1="525.86" y1="1526.57" x2="543.86" y2="1526.57" stroke="#4F8F00" stroke-width="3.2" stroke-linecap="butt" />
<line x1="525.86" y1="1506.73" x2="543.86" y2="1506.73" stroke="#4F8F00" stroke-width="3.2" stroke-linecap="butt" />
<line x1="633.10" y1="1503.21" x2="633.10" y2="1467.58" stroke="#4F8F00" stroke-width="3.2" stroke-linecap="butt" />
<line x1="624.10" y1="1503.21" x2="642.10" y2="1503.21" stroke="#4F8F00" stroke-width="3.2" stroke-linecap="butt" />
<line x1="624.10" y1="1467.58" x2="642.10" y2="1467.58" stroke="#4F8F00" stroke-width="3.2" stroke-linecap="butt" />
<line x1="436.62" y1="1522.39" x2="436.62" y2="1498.90" stroke="#9437FF" stroke-width="3.2" stroke-linecap="butt" />
<line x1="427.62" y1="1522.39" x2="445.62" y2="1522.39" stroke="#9437FF" stroke-width="3.2" stroke-linecap="butt" />
<line x1="427.62" y1="1498.90" x2="445.62" y2="1498.90" stroke="#9437FF" stroke-width="3.2" stroke-linecap="butt" />
<line x1="534.86" y1="1481.54" x2="534.86" y2="1428.69" stroke="#9437FF" stroke-width="3.2" stroke-linecap="butt" />
<line x1="525.86" y1="1481.54" x2="543.86" y2="1481.54" stroke="#9437FF" stroke-width="3.2" stroke-linecap="butt" />
<line x1="525.86" y1="1428.69" x2="543.86" y2="1428.69" stroke="#9437FF" stroke-width="3.2" stroke-linecap="butt" />
<line x1="633.10" y1="1451.40" x2="633.10" y2="1398.94" stroke="#9437FF" stroke-width="3.2" stroke-linecap="butt" />
<line x1="624.10" y1="1451.40" x2="642.10" y2="1451.40" stroke="#9437FF" stroke-width="3.2" stroke-linecap="butt" />
<line x1="624.10" y1="1398.94" x2="642.10" y2="1398.94" stroke="#9437FF" stroke-width="3.2" stroke-linecap="butt" />
<line x1="534.86" y1="1514.17" x2="534.86" y2="1498.12" stroke="#000" stroke-width="3.2" stroke-linecap="butt" />
<line x1="525.86" y1="1514.17" x2="543.86" y2="1514.17" stroke="#000" stroke-width="3.2" stroke-linecap="butt" />
<line x1="525.86" y1="1498.12" x2="543.86" y2="1498.12" stroke="#000" stroke-width="3.2" stroke-linecap="butt" />
<line x1="633.10" y1="1470.45" x2="633.10" y2="1439.26" stroke="#000" stroke-width="3.2" stroke-linecap="butt" />
<line x1="624.10" y1="1470.45" x2="642.10" y2="1470.45" stroke="#000" stroke-width="3.2" stroke-linecap="butt" />
<line x1="624.10" y1="1439.26" x2="642.10" y2="1439.26" stroke="#000" stroke-width="3.2" stroke-linecap="butt" />
<line x1="436.62" y1="1498.90" x2="436.62" y2="1458.45" stroke="#0433FF" stroke-width="3.2" stroke-linecap="butt" />
<line x1="427.62" y1="1498.90" x2="445.62" y2="1498.90" stroke="#0433FF" stroke-width="3.2" stroke-linecap="butt" />
<line x1="427.62" y1="1458.45" x2="445.62" y2="1458.45" stroke="#0433FF" stroke-width="3.2" stroke-linecap="butt" />
<line x1="534.86" y1="1420.60" x2="534.86" y2="1350.13" stroke="#0433FF" stroke-width="3.2" stroke-linecap="butt" />
<line x1="525.86" y1="1420.60" x2="543.86" y2="1420.60" stroke="#0433FF" stroke-width="3.2" stroke-linecap="butt" />
<line x1="525.86" y1="1350.13" x2="543.86" y2="1350.13" stroke="#0433FF" stroke-width="3.2" stroke-linecap="butt" />
<line x1="633.10" y1="1369.71" x2="633.10" y2="1299.24" stroke="#0433FF" stroke-width="3.2" stroke-linecap="butt" />
<line x1="624.10" y1="1369.71" x2="642.10" y2="1369.71" stroke="#0433FF" stroke-width="3.2" stroke-linecap="butt" />
<line x1="624.10" y1="1299.24" x2="642.10" y2="1299.24" stroke="#0433FF" stroke-width="3.2" stroke-linecap="butt" />
<path d="M141.9,1568.8 L149.9,1584.8 L133.9,1584.8 Z" fill="#4F8F00"/>
<path d="M240.1,1547.9 L248.1,1563.9 L232.1,1563.9 Z" fill="#4F8F00"/>
<path d="M338.4,1541.4 L346.4,1557.4 L330.4,1557.4 Z" fill="#4F8F00"/>
<path d="M436.6,1532.3 L444.6,1548.3 L428.6,1548.3 Z" fill="#4F8F00"/>
<path d="M534.9,1510.1 L542.9,1526.1 L526.9,1526.1 Z" fill="#4F8F00"/>
<path d="M633.1,1478.4 L641.1,1494.4 L625.1,1494.4 Z" fill="#4F8F00"/>
<path d="M141.9,1568.6 L150.5,1577.2 L141.9,1585.8 L133.3,1577.2 Z" fill="#9437FF"/>
<path d="M240.1,1545.8 L248.7,1554.4 L240.1,1563.0 L231.5,1554.4 Z" fill="#9437FF"/>
<path d="M338.4,1534.0 L347.0,1542.6 L338.4,1551.2 L329.8,1542.6 Z" fill="#9437FF"/>
<path d="M436.6,1503.4 L445.2,1512.0 L436.6,1520.5 L428.0,1512.0 Z" fill="#9437FF"/>
<path d="M534.9,1446.3 L543.5,1454.9 L534.9,1463.5 L526.3,1454.9 Z" fill="#9437FF"/>
<path d="M633.1,1416.6 L641.7,1425.2 L633.1,1433.8 L624.5,1425.2 Z" fill="#9437FF"/>
<rect x="133.7" y="1569.0" width="16.4" height="16.4" fill="#FF2600"/>
<rect x="231.9" y="1549.4" width="16.4" height="16.4" fill="#FF2600"/>
<rect x="330.2" y="1541.3" width="16.4" height="16.4" fill="#FF2600"/>
<rect x="428.4" y="1524.0" width="16.4" height="16.4" fill="#FF2600"/>
<rect x="526.7" y="1498.3" width="16.4" height="16.4" fill="#FF2600"/>
<rect x="624.9" y="1446.7" width="16.4" height="16.4" fill="#FF2600"/>
<circle cx="141.9" cy="1577.2" r="8.2" fill="#0433FF"/>
<circle cx="240.1" cy="1553.7" r="8.2" fill="#0433FF"/>
<circle cx="338.4" cy="1531.3" r="8.2" fill="#0433FF"/>
<circle cx="436.6" cy="1478.3" r="8.2" fill="#0433FF"/>
<circle cx="534.9" cy="1385.4" r="8.2" fill="#0433FF"/>
<circle cx="633.1" cy="1333.9" r="8.2" fill="#0433FF"/>
<text transform="translate(43.5,1383.6) rotate(-90)" font-size="21.5" font-weight="bold" text-anchor="middle" fill="#000">Tumor size (mm<tspan font-size="15.5" dy="-7">2</tspan><tspan dy="7">)</tspan></text>
<text x="387.80" y="1640.10" font-size="21.3" font-weight="bold" text-anchor="middle" fill="#000" textLength="118.3" lengthAdjust="spacingAndGlyphs" >Days post TC</text>
<line x1="115.70" y1="1231.70" x2="152.50" y2="1231.70" stroke="#0433FF" stroke-width="5.2" stroke-linecap="round" />
<circle cx="134.1" cy="1231.7" r="12.0" fill="#0433FF"/>
<text x="174.40" y="1242.00" font-size="29.3" font-weight="normal" text-anchor="start" fill="#000" textLength="87.7" lengthAdjust="spacingAndGlyphs" >Control</text>
<line x1="113.40" y1="1281.30" x2="150.20" y2="1281.30" stroke="#FF2600" stroke-width="5.2" stroke-linecap="round" />
<rect x="119.8" y="1269.3" width="24.0" height="24.0" fill="#FF2600"/>
<text x="172.10" y="1291.60" font-size="29.3" font-weight="normal" text-anchor="start" fill="#000" textLength="99" lengthAdjust="spacingAndGlyphs" >αTGFβ1</text>
<line x1="113.40" y1="1329.30" x2="150.20" y2="1329.30" stroke="#4F8F00" stroke-width="5.2" stroke-linecap="round" />
<path d="M131.8,1317.3 L143.8,1341.7 L119.8,1341.7 Z" fill="#4F8F00"/>
<text x="171.50" y="1339.60" font-size="29.3" font-weight="normal" text-anchor="start" fill="#000" textLength="102.5" lengthAdjust="spacingAndGlyphs" >αTGFβ3</text>
<line x1="115.70" y1="1379.80" x2="152.50" y2="1379.80" stroke="#9437FF" stroke-width="5.2" stroke-linecap="round" />
<path d="M134.1,1367.7 L146.2,1379.8 L134.1,1391.9 L122.0,1379.8 Z" fill="#9437FF"/>
<text x="175.80" y="1390.10" font-size="29.3" font-weight="normal" text-anchor="start" fill="#000" textLength="59.2" lengthAdjust="spacingAndGlyphs" >1D11</text>
<path d="M281,1225.5 C299,1225.5 307,1225.8 307,1230.5 L307,1282.5 C307,1287.2 299,1287.5 281,1289.0" fill="none" stroke="#000" stroke-width="2.2" filter="url(#sh2)"/>
<path d="M318.40,1255.80 L318.40,1263.60 M315.02,1257.75 L321.78,1261.65 M321.78,1257.75 L315.02,1261.65 " stroke="#000" stroke-width="1.9" stroke-linecap="round"/>
<path d="M328.20,1255.80 L328.20,1263.60 M324.82,1257.75 L331.58,1261.65 M331.58,1257.75 L324.82,1261.65 " stroke="#000" stroke-width="1.9" stroke-linecap="round"/>
<path d="M338.00,1255.80 L338.00,1263.60 M334.62,1257.75 L341.38,1261.65 M341.38,1257.75 L334.62,1261.65 " stroke="#000" stroke-width="1.9" stroke-linecap="round"/>
<path d="M347.80,1255.80 L347.80,1263.60 M344.42,1257.75 L351.18,1261.65 M351.18,1257.75 L344.42,1261.65 " stroke="#000" stroke-width="1.9" stroke-linecap="round"/>
<path d="M339.4,1225.5 C356,1225.5 364,1225.8 364,1230.5 L364,1327.5 C364,1332.2 356,1332.5 339.4,1334.0" fill="none" stroke="#000" stroke-width="2.2" filter="url(#sh2)"/>
<path d="M377.30,1277.90 L377.30,1285.70 M373.92,1279.85 L380.68,1283.75 M380.68,1279.85 L373.92,1283.75 " stroke="#000" stroke-width="1.9" stroke-linecap="round"/>
<path d="M387.20,1277.90 L387.20,1285.70 M383.82,1279.85 L390.58,1283.75 M390.58,1279.85 L383.82,1283.75 " stroke="#000" stroke-width="1.9" stroke-linecap="round"/>
<path d="M397.00,1277.90 L397.00,1285.70 M393.62,1279.85 L400.38,1283.75 M400.38,1279.85 L393.62,1283.75 " stroke="#000" stroke-width="1.9" stroke-linecap="round"/>
<path d="M406.90,1277.90 L406.90,1285.70 M403.52,1279.85 L410.28,1283.75 M410.28,1279.85 L403.52,1283.75 " stroke="#000" stroke-width="1.9" stroke-linecap="round"/>
<path d="M392.4,1225.5 C410.6,1225.5 418.6,1225.8 418.6,1230.5 L418.6,1373.5 C418.6,1378.2 410.6,1378.5 392.4,1380.0" fill="none" stroke="#000" stroke-width="2.2" filter="url(#sh2)"/>
<path d="M434.20,1289.30 L434.20,1297.10 M430.82,1291.25 L437.58,1295.15 M437.58,1291.25 L430.82,1295.15 " stroke="#000" stroke-width="1.9" stroke-linecap="round"/>
<path d="M444.10,1289.30 L444.10,1297.10 M440.72,1291.25 L447.48,1295.15 M447.48,1291.25 L440.72,1295.15 " stroke="#000" stroke-width="1.9" stroke-linecap="round"/>
<path d="M454.00,1289.30 L454.00,1297.10 M450.62,1291.25 L457.38,1295.15 M457.38,1291.25 L450.62,1295.15 " stroke="#000" stroke-width="1.9" stroke-linecap="round"/>
<path d="M281,1325.5 C299,1325.5 307,1325.8 307,1330.5 L307,1381 C307,1385.7 299,1386 281,1387.5" fill="none" stroke="#000" stroke-width="2.2" filter="url(#sh2)"/>
<path d="M321.90,1352.90 L321.90,1360.70 M318.52,1354.85 L325.28,1358.75 M325.28,1354.85 L318.52,1358.75 " stroke="#000" stroke-width="1.9" stroke-linecap="round"/>
<text x="792.50" y="1117.70" font-size="35" font-weight="bold" text-anchor="start" fill="#000" >d</text>
<text x="1146.30" y="1154.20" font-size="35.2" font-weight="bold" text-anchor="middle" fill="#000" >Tumor growth in CT26 Colon</text>
<line x1="855.20" y1="1181.80" x2="855.20" y2="1588.60" stroke="#000" stroke-width="3.6" stroke-linecap="butt" />
<line x1="844.20" y1="1586.90" x2="1449.00" y2="1586.90" stroke="#000" stroke-width="4.2" stroke-linecap="butt" />
<line x1="844.20" y1="1586.60" x2="855.20" y2="1586.60" stroke="#000" stroke-width="3.6" stroke-linecap="butt" />
<text x="842.70" y="1592.60" font-size="16" font-weight="bold" text-anchor="end" fill="#000" >0</text>
<line x1="844.20" y1="1506.00" x2="855.20" y2="1506.00" stroke="#000" stroke-width="3.6" stroke-linecap="butt" />
<text x="842.70" y="1512.00" font-size="16" font-weight="bold" text-anchor="end" fill="#000" >50</text>
<line x1="844.20" y1="1425.40" x2="855.20" y2="1425.40" stroke="#000" stroke-width="3.6" stroke-linecap="butt" />
<text x="842.70" y="1431.40" font-size="16" font-weight="bold" text-anchor="end" fill="#000" >100</text>
<line x1="844.20" y1="1344.80" x2="855.20" y2="1344.80" stroke="#000" stroke-width="3.6" stroke-linecap="butt" />
<text x="842.70" y="1350.80" font-size="16" font-weight="bold" text-anchor="end" fill="#000" >150</text>
<line x1="844.20" y1="1264.20" x2="855.20" y2="1264.20" stroke="#000" stroke-width="3.6" stroke-linecap="butt" />
<text x="842.70" y="1270.20" font-size="16" font-weight="bold" text-anchor="end" fill="#000" >200</text>
<line x1="844.20" y1="1183.60" x2="855.20" y2="1183.60" stroke="#000" stroke-width="3.6" stroke-linecap="butt" />
<text x="842.70" y="1189.60" font-size="16" font-weight="bold" text-anchor="end" fill="#000" >250</text>
<line x1="897.20" y1="1586.60" x2="897.20" y2="1598.60" stroke="#000" stroke-width="3.6" stroke-linecap="butt" />
<text x="897.20" y="1614.40" font-size="16" font-weight="bold" text-anchor="middle" fill="#000" >0</text>
<line x1="981.95" y1="1586.60" x2="981.95" y2="1598.60" stroke="#000" stroke-width="3.6" stroke-linecap="butt" />
<text x="981.95" y="1614.40" font-size="16" font-weight="bold" text-anchor="middle" fill="#000" >6</text>
<line x1="1066.70" y1="1586.60" x2="1066.70" y2="1598.60" stroke="#000" stroke-width="3.6" stroke-linecap="butt" />
<text x="1066.70" y="1614.40" font-size="16" font-weight="bold" text-anchor="middle" fill="#000" >10</text>
<line x1="1151.45" y1="1586.60" x2="1151.45" y2="1598.60" stroke="#000" stroke-width="3.6" stroke-linecap="butt" />
<text x="1151.45" y="1614.40" font-size="16" font-weight="bold" text-anchor="middle" fill="#000" >13</text>
<line x1="1236.20" y1="1586.60" x2="1236.20" y2="1598.60" stroke="#000" stroke-width="3.6" stroke-linecap="butt" />
<text x="1236.20" y="1614.40" font-size="16" font-weight="bold" text-anchor="middle" fill="#000" >16</text>
<line x1="1320.95" y1="1586.60" x2="1320.95" y2="1598.60" stroke="#000" stroke-width="3.6" stroke-linecap="butt" />
<text x="1320.95" y="1614.40" font-size="16" font-weight="bold" text-anchor="middle" fill="#000" >20</text>
<line x1="1405.70" y1="1586.60" x2="1405.70" y2="1598.60" stroke="#000" stroke-width="3.6" stroke-linecap="butt" />
<text x="1405.70" y="1614.40" font-size="16" font-weight="bold" text-anchor="middle" fill="#000" >23</text>
<circle cx="891.2" cy="1586.6" r="5.8" fill="#3040A8" fill-opacity="0.31"/>
<circle cx="900.2" cy="1586.6" r="5.8" fill="#3040A8" fill-opacity="0.31"/>
<circle cx="980.0" cy="1540.7" r="5.8" fill="#3040A8" fill-opacity="0.31"/>
<circle cx="985.0" cy="1551.1" r="5.8" fill="#3040A8" fill-opacity="0.31"/>
<circle cx="976.0" cy="1557.6" r="5.8" fill="#3040A8" fill-opacity="0.31"/>
<circle cx="988.0" cy="1562.4" r="5.8" fill="#3040A8" fill-opacity="0.31"/>
<circle cx="980.0" cy="1571.6" r="5.8" fill="#3040A8" fill-opacity="0.31"/>
<circle cx="985.0" cy="1573.7" r="5.8" fill="#3040A8" fill-opacity="0.31"/>
<circle cx="1065.7" cy="1517.9" r="5.8" fill="#3040A8" fill-opacity="0.31"/>
<circle cx="1068.7" cy="1521.2" r="5.8" fill="#3040A8" fill-opacity="0.31"/>
<circle cx="1063.7" cy="1534.5" r="5.8" fill="#3040A8" fill-opacity="0.31"/>
<circle cx="1070.7" cy="1541.5" r="5.8" fill="#3040A8" fill-opacity="0.31"/>
<circle cx="1064.7" cy="1554.4" r="5.8" fill="#3040A8" fill-opacity="0.31"/>
<circle cx="1069.7" cy="1565.6" r="5.8" fill="#3040A8" fill-opacity="0.31"/>
<circle cx="1065.7" cy="1578.1" r="5.8" fill="#3040A8" fill-opacity="0.31"/>
<circle cx="1150.5" cy="1488.3" r="5.8" fill="#3040A8" fill-opacity="0.31"/>
<circle cx="1148.5" cy="1497.3" r="5.8" fill="#3040A8" fill-opacity="0.31"/>
<circle cx="1153.5" cy="1535.0" r="5.8" fill="#3040A8" fill-opacity="0.31"/>
<circle cx="1147.5" cy="1557.6" r="5.8" fill="#3040A8" fill-opacity="0.31"/>
<circle cx="1151.5" cy="1573.7" r="5.8" fill="#3040A8" fill-opacity="0.31"/>
<circle cx="1159.5" cy="1554.4" r="5.8" fill="#3040A8" fill-opacity="0.31"/>
<circle cx="1236.2" cy="1439.9" r="5.8" fill="#3040A8" fill-opacity="0.31"/>
<circle cx="1232.2" cy="1460.2" r="5.8" fill="#3040A8" fill-opacity="0.31"/>
<circle cx="1240.2" cy="1460.2" r="5.8" fill="#3040A8" fill-opacity="0.31"/>
<circle cx="1231.2" cy="1500.4" r="5.8" fill="#3040A8" fill-opacity="0.31"/>
<circle cx="1242.2" cy="1530.2" r="5.8" fill="#3040A8" fill-opacity="0.31"/>
<circle cx="1232.2" cy="1541.5" r="5.8" fill="#3040A8" fill-opacity="0.31"/>
<circle cx="1246.2" cy="1546.3" r="5.8" fill="#3040A8" fill-opacity="0.31"/>
<circle cx="1236.2" cy="1564.0" r="5.8" fill="#3040A8" fill-opacity="0.31"/>
<circle cx="1321.0" cy="1344.5" r="5.8" fill="#3040A8" fill-opacity="0.31"/>
<circle cx="1321.0" cy="1369.9" r="5.8" fill="#3040A8" fill-opacity="0.31"/>
<circle cx="1329.0" cy="1393.5" r="5.8" fill="#3040A8" fill-opacity="0.31"/>
<circle cx="1334.7" cy="1402.2" r="5.8" fill="#3040A8" fill-opacity="0.31"/>
<circle cx="1318.0" cy="1462.5" r="5.8" fill="#3040A8" fill-opacity="0.31"/>
<circle cx="1329.0" cy="1513.7" r="5.8" fill="#3040A8" fill-opacity="0.31"/>
<circle cx="1323.0" cy="1537.0" r="5.8" fill="#3040A8" fill-opacity="0.31"/>
<circle cx="1405.7" cy="1315.8" r="5.8" fill="#3040A8" fill-opacity="0.31"/>
<circle cx="1398.4" cy="1321.7" r="5.8" fill="#3040A8" fill-opacity="0.31"/>
<circle cx="1413.0" cy="1456.0" r="5.8" fill="#3040A8" fill-opacity="0.31"/>
<circle cx="1405.7" cy="1465.1" r="5.8" fill="#3040A8" fill-opacity="0.31"/>
<circle cx="1405.7" cy="1491.5" r="5.8" fill="#3040A8" fill-opacity="0.31"/>
<circle cx="1398.4" cy="1514.9" r="5.8" fill="#3040A8" fill-opacity="0.31"/>
<circle cx="1413.0" cy="1519.2" r="5.8" fill="#3040A8" fill-opacity="0.31"/>
<circle cx="1413.7" cy="1277.1" r="5.8" fill="#3040A8" fill-opacity="0.31"/>
<circle cx="1417.7" cy="1273.9" r="5.8" fill="#3040A8" fill-opacity="0.31"/>
<rect x="881.6" y="1581.0" width="11.2" height="11.2" fill="#F05A28" fill-opacity="0.35"/>
<rect x="887.6" y="1581.0" width="11.2" height="11.2" fill="#F05A28" fill-opacity="0.35"/>
<rect x="971.4" y="1548.8" width="11.2" height="11.2" fill="#F05A28" fill-opacity="0.35"/>
<rect x="979.4" y="1558.4" width="11.2" height="11.2" fill="#F05A28" fill-opacity="0.35"/>
<rect x="982.4" y="1545.5" width="11.2" height="11.2" fill="#F05A28" fill-opacity="0.35"/>
<rect x="1061.1" y="1521.7" width="11.2" height="11.2" fill="#F05A28" fill-opacity="0.35"/>
<rect x="1056.1" y="1539.1" width="11.2" height="11.2" fill="#F05A28" fill-opacity="0.35"/>
<rect x="1059.1" y="1566.0" width="11.2" height="11.2" fill="#F05A28" fill-opacity="0.35"/>
<rect x="1066.1" y="1532.6" width="11.2" height="11.2" fill="#F05A28" fill-opacity="0.35"/>
<rect x="1149.9" y="1485.6" width="11.2" height="11.2" fill="#F05A28" fill-opacity="0.35"/>
<rect x="1142.9" y="1508.5" width="11.2" height="11.2" fill="#F05A28" fill-opacity="0.35"/>
<rect x="1145.9" y="1555.2" width="11.2" height="11.2" fill="#F05A28" fill-opacity="0.35"/>
<rect x="1150.9" y="1540.7" width="11.2" height="11.2" fill="#F05A28" fill-opacity="0.35"/>
<rect x="1145.9" y="1581.0" width="11.2" height="11.2" fill="#F05A28" fill-opacity="0.35"/>
<rect x="1230.6" y="1454.6" width="11.2" height="11.2" fill="#F05A28" fill-opacity="0.35"/>
<rect x="1230.6" y="1485.6" width="11.2" height="11.2" fill="#F05A28" fill-opacity="0.35"/>
<rect x="1230.6" y="1555.9" width="11.2" height="11.2" fill="#F05A28" fill-opacity="0.35"/>
<rect x="1230.6" y="1581.0" width="11.2" height="11.2" fill="#F05A28" fill-opacity="0.35"/>
<rect x="1238.6" y="1532.6" width="11.2" height="11.2" fill="#F05A28" fill-opacity="0.35"/>
<rect x="1312.4" y="1396.6" width="11.2" height="11.2" fill="#F05A28" fill-opacity="0.35"/>
<rect x="1306.6" y="1408.5" width="11.2" height="11.2" fill="#F05A28" fill-opacity="0.35"/>
<rect x="1306.6" y="1441.2" width="11.2" height="11.2" fill="#F05A28" fill-opacity="0.35"/>
<rect x="1306.6" y="1474.0" width="11.2" height="11.2" fill="#F05A28" fill-opacity="0.35"/>
<rect x="1323.4" y="1496.4" width="11.2" height="11.2" fill="#F05A28" fill-opacity="0.35"/>
<rect x="1323.4" y="1520.4" width="11.2" height="11.2" fill="#F05A28" fill-opacity="0.35"/>
<rect x="1323.4" y="1532.3" width="11.2" height="11.2" fill="#F05A28" fill-opacity="0.35"/>
<rect x="1303.9" y="1581.0" width="11.2" height="11.2" fill="#F05A28" fill-opacity="0.35"/>
<rect x="1315.4" y="1581.0" width="11.2" height="11.2" fill="#F05A28" fill-opacity="0.35"/>
<rect x="1407.4" y="1316.6" width="11.2" height="11.2" fill="#F05A28" fill-opacity="0.35"/>
<rect x="1400.1" y="1333.7" width="11.2" height="11.2" fill="#F05A28" fill-opacity="0.35"/>
<rect x="1392.8" y="1369.3" width="11.2" height="11.2" fill="#F05A28" fill-opacity="0.35"/>
<rect x="1414.7" y="1404.8" width="11.2" height="11.2" fill="#F05A28" fill-opacity="0.35"/>
<rect x="1407.4" y="1491.4" width="11.2" height="11.2" fill="#F05A28" fill-opacity="0.35"/>
<rect x="1400.1" y="1519.6" width="11.2" height="11.2" fill="#F05A28" fill-opacity="0.35"/>
<rect x="1407.4" y="1581.0" width="11.2" height="11.2" fill="#F05A28" fill-opacity="0.35"/>
<rect x="1414.7" y="1581.0" width="11.2" height="11.2" fill="#F05A28" fill-opacity="0.35"/>
<path d="M903.2,1580.1 L909.4,1592.5 L897.0,1592.5 Z" fill="#40A030" fill-opacity="0.3"/>
<path d="M976.0,1555.9 L982.2,1568.3 L969.8,1568.3 Z" fill="#40A030" fill-opacity="0.3"/>
<path d="M986.0,1560.7 L992.2,1573.1 L979.8,1573.1 Z" fill="#40A030" fill-opacity="0.3"/>
<path d="M990.0,1551.1 L996.2,1563.5 L983.8,1563.5 Z" fill="#40A030" fill-opacity="0.3"/>
<path d="M1066.7,1523.7 L1072.9,1536.1 L1060.5,1536.1 Z" fill="#40A030" fill-opacity="0.3"/>
<path d="M1058.7,1547.8 L1064.9,1560.2 L1052.5,1560.2 Z" fill="#40A030" fill-opacity="0.3"/>
<path d="M1074.7,1551.1 L1080.9,1563.5 L1068.5,1563.5 Z" fill="#40A030" fill-opacity="0.3"/>
<path d="M1147.5,1492.1 L1153.7,1504.5 L1141.2,1504.5 Z" fill="#40A030" fill-opacity="0.3"/>
<path d="M1151.5,1505.1 L1157.7,1517.5 L1145.2,1517.5 Z" fill="#40A030" fill-opacity="0.3"/>
<path d="M1138.5,1554.0 L1144.7,1566.4 L1132.2,1566.4 Z" fill="#40A030" fill-opacity="0.3"/>
<path d="M1236.2,1445.3 L1242.4,1457.7 L1230.0,1457.7 Z" fill="#40A030" fill-opacity="0.3"/>
<path d="M1232.2,1474.2 L1238.4,1486.6 L1226.0,1486.6 Z" fill="#40A030" fill-opacity="0.3"/>
<path d="M1240.2,1480.5 L1246.4,1492.9 L1234.0,1492.9 Z" fill="#40A030" fill-opacity="0.3"/>
<path d="M1236.2,1561.1 L1242.4,1573.5 L1230.0,1573.5 Z" fill="#40A030" fill-opacity="0.3"/>
<path d="M1232.2,1515.6 L1238.4,1528.0 L1226.0,1528.0 Z" fill="#40A030" fill-opacity="0.3"/>
<path d="M1321.0,1326.5 L1327.2,1338.9 L1314.8,1338.9 Z" fill="#40A030" fill-opacity="0.3"/>
<path d="M1306.4,1397.5 L1312.6,1409.9 L1300.2,1409.9 Z" fill="#40A030" fill-opacity="0.3"/>
<path d="M1313.2,1394.7 L1319.4,1407.1 L1307.0,1407.1 Z" fill="#40A030" fill-opacity="0.3"/>
<path d="M1323.0,1403.9 L1329.2,1416.3 L1316.8,1416.3 Z" fill="#40A030" fill-opacity="0.3"/>
<path d="M1317.7,1530.4 L1323.9,1542.8 L1311.5,1542.8 Z" fill="#40A030" fill-opacity="0.3"/>
<path d="M1391.1,1302.8 L1397.3,1315.2 L1384.9,1315.2 Z" fill="#40A030" fill-opacity="0.3"/>
<path d="M1398.4,1302.8 L1404.6,1315.2 L1392.2,1315.2 Z" fill="#40A030" fill-opacity="0.3"/>
<path d="M1398.4,1329.3 L1404.6,1341.7 L1392.2,1341.7 Z" fill="#40A030" fill-opacity="0.3"/>
<path d="M1405.7,1358.4 L1411.9,1370.8 L1399.5,1370.8 Z" fill="#40A030" fill-opacity="0.3"/>
<path d="M1391.1,1403.9 L1397.3,1416.3 L1384.9,1416.3 Z" fill="#40A030" fill-opacity="0.3"/>
<path d="M1398.4,1417.6 L1404.6,1430.0 L1392.2,1430.0 Z" fill="#40A030" fill-opacity="0.3"/>
<path d="M1405.7,1497.7 L1411.9,1510.1 L1399.5,1510.1 Z" fill="#40A030" fill-opacity="0.3"/>
<path d="M1402.7,1252.9 L1408.9,1265.3 L1396.5,1265.3 Z" fill="#40A030" fill-opacity="0.3"/>
<path d="M905.2,1580.4 L911.4,1586.6 L905.2,1592.8 L899.0,1586.6 Z" fill="#6A4A9A" fill-opacity="0.3"/>
<path d="M909.2,1580.4 L915.4,1586.6 L909.2,1592.8 L903.0,1586.6 Z" fill="#6A4A9A" fill-opacity="0.3"/>
<path d="M990.0,1554.6 L996.2,1560.8 L990.0,1567.0 L983.8,1560.8 Z" fill="#6A4A9A" fill-opacity="0.3"/>
<path d="M996.0,1557.8 L1002.2,1564.0 L996.0,1570.2 L989.8,1564.0 Z" fill="#6A4A9A" fill-opacity="0.3"/>
<path d="M1056.7,1541.7 L1062.9,1547.9 L1056.7,1554.1 L1050.5,1547.9 Z" fill="#6A4A9A" fill-opacity="0.3"/>
<path d="M1072.7,1551.4 L1078.9,1557.6 L1072.7,1563.8 L1066.5,1557.6 Z" fill="#6A4A9A" fill-opacity="0.3"/>
<path d="M1161.5,1551.4 L1167.7,1557.6 L1161.5,1563.8 L1155.2,1557.6 Z" fill="#6A4A9A" fill-opacity="0.3"/>
<path d="M1160.5,1557.3 L1166.7,1563.5 L1160.5,1569.7 L1154.2,1563.5 Z" fill="#6A4A9A" fill-opacity="0.3"/>
<path d="M1146.5,1548.2 L1152.7,1554.4 L1146.5,1560.6 L1140.2,1554.4 Z" fill="#6A4A9A" fill-opacity="0.3"/>
<path d="M1228.2,1535.3 L1234.4,1541.5 L1228.2,1547.7 L1222.0,1541.5 Z" fill="#6A4A9A" fill-opacity="0.3"/>
<path d="M1244.2,1544.9 L1250.4,1551.1 L1244.2,1557.3 L1238.0,1551.1 Z" fill="#6A4A9A" fill-opacity="0.3"/>
<path d="M1232.2,1574.9 L1238.4,1581.1 L1232.2,1587.3 L1226.0,1581.1 Z" fill="#6A4A9A" fill-opacity="0.3"/>
<path d="M1229.2,1580.4 L1235.4,1586.6 L1229.2,1592.8 L1223.0,1586.6 Z" fill="#6A4A9A" fill-opacity="0.3"/>
<path d="M1323.0,1390.5 L1329.2,1396.7 L1323.0,1402.9 L1316.8,1396.7 Z" fill="#6A4A9A" fill-opacity="0.3"/>
<path d="M1329.0,1437.9 L1335.2,1444.1 L1329.0,1450.3 L1322.8,1444.1 Z" fill="#6A4A9A" fill-opacity="0.3"/>
<path d="M1308.7,1507.1 L1314.9,1513.3 L1308.7,1519.5 L1302.5,1513.3 Z" fill="#6A4A9A" fill-opacity="0.3"/>
<path d="M1315.0,1580.4 L1321.2,1586.6 L1315.0,1592.8 L1308.8,1586.6 Z" fill="#6A4A9A" fill-opacity="0.3"/>
<path d="M1331.4,1580.4 L1337.6,1586.6 L1331.4,1592.8 L1325.2,1586.6 Z" fill="#6A4A9A" fill-opacity="0.3"/>
<path d="M1420.3,1294.1 L1426.5,1300.3 L1420.3,1306.5 L1414.1,1300.3 Z" fill="#6A4A9A" fill-opacity="0.3"/>
<path d="M1420.3,1307.0 L1426.5,1313.2 L1420.3,1319.4 L1414.1,1313.2 Z" fill="#6A4A9A" fill-opacity="0.3"/>
<path d="M1413.0,1343.1 L1419.2,1349.3 L1413.0,1355.5 L1406.8,1349.3 Z" fill="#6A4A9A" fill-opacity="0.3"/>
<path d="M1398.4,1350.2 L1404.6,1356.4 L1398.4,1362.6 L1392.2,1356.4 Z" fill="#6A4A9A" fill-opacity="0.3"/>
<path d="M1398.4,1432.4 L1404.6,1438.6 L1398.4,1444.8 L1392.2,1438.6 Z" fill="#6A4A9A" fill-opacity="0.3"/>
<path d="M1420.3,1440.3 L1426.5,1446.5 L1420.3,1452.7 L1414.1,1446.5 Z" fill="#6A4A9A" fill-opacity="0.3"/>
<path d="M1391.1,1580.4 L1397.3,1586.6 L1391.1,1592.8 L1384.9,1586.6 Z" fill="#6A4A9A" fill-opacity="0.3"/>
<path d="M1398.4,1580.4 L1404.6,1586.6 L1398.4,1592.8 L1392.2,1586.6 Z" fill="#6A4A9A" fill-opacity="0.3"/>
<path d="M1405.7,1580.4 L1411.9,1586.6 L1405.7,1592.8 L1399.5,1586.6 Z" fill="#6A4A9A" fill-opacity="0.3"/>
<polyline points="897.2,1586.6 982.0,1559.2 1066.7,1544.7 1151.5,1530.2 1236.2,1506.8 1321.0,1440.6 1405.7,1376.7" fill="none" stroke="#4F8F00" stroke-width="4" stroke-linejoin="round"/>
<polyline points="897.2,1586.6 982.0,1559.2 1066.7,1547.9 1151.5,1547.9 1236.2,1547.9 1321.0,1502.5 1405.7,1438.6" fill="none" stroke="#9437FF" stroke-width="4" stroke-linejoin="round"/>
<polyline points="897.2,1586.6 982.0,1559.2 1066.7,1549.0 1151.5,1544.8 1236.2,1534.5 1321.0,1491.5 1405.7,1451.0" fill="none" stroke="#FF2600" stroke-width="4" stroke-linejoin="round"/>
<polyline points="897.2,1586.6 982.0,1557.3 1066.7,1546.0 1151.5,1529.4 1236.2,1509.7 1321.0,1453.8 1405.7,1408.6" fill="none" stroke="#0433FF" stroke-width="4" stroke-linejoin="round"/>
<line x1="1320.95" y1="1461.35" x2="1320.95" y2="1418.63" stroke="#4F8F00" stroke-width="3" stroke-linecap="butt" />
<line x1="1312.55" y1="1418.63" x2="1329.35" y2="1418.63" stroke="#4F8F00" stroke-width="3" stroke-linecap="butt" />
<line x1="1405.70" y1="1401.86" x2="1405.70" y2="1352.70" stroke="#4F8F00" stroke-width="3" stroke-linecap="butt" />
<line x1="1397.30" y1="1401.86" x2="1414.10" y2="1401.86" stroke="#4F8F00" stroke-width="3" stroke-linecap="butt" />
<line x1="1397.30" y1="1352.70" x2="1414.10" y2="1352.70" stroke="#4F8F00" stroke-width="3" stroke-linecap="butt" />
<line x1="1236.20" y1="1556.78" x2="1236.20" y2="1538.24" stroke="#9437FF" stroke-width="3" stroke-linecap="butt" />
<line x1="1227.80" y1="1556.78" x2="1244.60" y2="1556.78" stroke="#9437FF" stroke-width="3" stroke-linecap="butt" />
<line x1="1227.80" y1="1538.24" x2="1244.60" y2="1538.24" stroke="#9437FF" stroke-width="3" stroke-linecap="butt" />
<line x1="1320.95" y1="1523.89" x2="1320.95" y2="1481.34" stroke="#9437FF" stroke-width="3" stroke-linecap="butt" />
<line x1="1312.55" y1="1523.89" x2="1329.35" y2="1523.89" stroke="#9437FF" stroke-width="3" stroke-linecap="butt" />
<line x1="1312.55" y1="1481.34" x2="1329.35" y2="1481.34" stroke="#9437FF" stroke-width="3" stroke-linecap="butt" />
<line x1="1405.70" y1="1474.08" x2="1405.70" y2="1439.91" stroke="#9437FF" stroke-width="3" stroke-linecap="butt" />
<line x1="1397.30" y1="1474.08" x2="1414.10" y2="1474.08" stroke="#9437FF" stroke-width="3" stroke-linecap="butt" />
<line x1="1397.30" y1="1439.91" x2="1414.10" y2="1439.91" stroke="#9437FF" stroke-width="3" stroke-linecap="butt" />
<line x1="1236.20" y1="1547.91" x2="1236.20" y2="1522.12" stroke="#FF2600" stroke-width="3" stroke-linecap="butt" />
<line x1="1227.80" y1="1547.91" x2="1244.60" y2="1547.91" stroke="#FF2600" stroke-width="3" stroke-linecap="butt" />
<line x1="1227.80" y1="1522.12" x2="1244.60" y2="1522.12" stroke="#FF2600" stroke-width="3" stroke-linecap="butt" />
<line x1="1320.95" y1="1512.93" x2="1320.95" y2="1469.89" stroke="#FF2600" stroke-width="3" stroke-linecap="butt" />
<line x1="1312.55" y1="1512.93" x2="1329.35" y2="1512.93" stroke="#FF2600" stroke-width="3" stroke-linecap="butt" />
<line x1="1312.55" y1="1469.89" x2="1329.35" y2="1469.89" stroke="#FF2600" stroke-width="3" stroke-linecap="butt" />
<line x1="1405.70" y1="1468.12" x2="1405.70" y2="1420.40" stroke="#FF2600" stroke-width="3" stroke-linecap="butt" />
<line x1="1397.30" y1="1468.12" x2="1414.10" y2="1468.12" stroke="#FF2600" stroke-width="3" stroke-linecap="butt" />
<line x1="1397.30" y1="1420.40" x2="1414.10" y2="1420.40" stroke="#FF2600" stroke-width="3" stroke-linecap="butt" />
<line x1="1151.45" y1="1538.72" x2="1151.45" y2="1520.02" stroke="#0433FF" stroke-width="3" stroke-linecap="butt" />
<line x1="1143.05" y1="1538.72" x2="1159.85" y2="1538.72" stroke="#0433FF" stroke-width="3" stroke-linecap="butt" />
<line x1="1143.05" y1="1520.02" x2="1159.85" y2="1520.02" stroke="#0433FF" stroke-width="3" stroke-linecap="butt" />
<line x1="1236.20" y1="1523.25" x2="1236.20" y2="1496.33" stroke="#0433FF" stroke-width="3" stroke-linecap="butt" />
<line x1="1227.80" y1="1523.25" x2="1244.60" y2="1523.25" stroke="#0433FF" stroke-width="3" stroke-linecap="butt" />
<line x1="1227.80" y1="1496.33" x2="1244.60" y2="1496.33" stroke="#0433FF" stroke-width="3" stroke-linecap="butt" />
<line x1="1320.95" y1="1475.86" x2="1320.95" y2="1431.36" stroke="#0433FF" stroke-width="3" stroke-linecap="butt" />
<line x1="1312.55" y1="1475.86" x2="1329.35" y2="1475.86" stroke="#0433FF" stroke-width="3" stroke-linecap="butt" />
<line x1="1312.55" y1="1431.36" x2="1329.35" y2="1431.36" stroke="#0433FF" stroke-width="3" stroke-linecap="butt" />
<line x1="1405.70" y1="1440.07" x2="1405.70" y2="1377.04" stroke="#0433FF" stroke-width="3" stroke-linecap="butt" />
<line x1="1397.30" y1="1440.07" x2="1414.10" y2="1440.07" stroke="#0433FF" stroke-width="3" stroke-linecap="butt" />
<line x1="1397.30" y1="1377.04" x2="1414.10" y2="1377.04" stroke="#0433FF" stroke-width="3" stroke-linecap="butt" />
<path d="M897.2,1578.7 L904.7,1593.7 L889.7,1593.7 Z" fill="#4F8F00"/>
<path d="M982.0,1551.3 L989.5,1566.3 L974.5,1566.3 Z" fill="#4F8F00"/>
<path d="M1066.7,1536.8 L1074.2,1551.8 L1059.2,1551.8 Z" fill="#4F8F00"/>
<path d="M1151.5,1522.3 L1159.0,1537.3 L1144.0,1537.3 Z" fill="#4F8F00"/>
<path d="M1236.2,1498.9 L1243.7,1513.9 L1228.7,1513.9 Z" fill="#4F8F00"/>
<path d="M1321.0,1432.7 L1328.5,1447.7 L1313.5,1447.7 Z" fill="#4F8F00"/>
<path d="M1405.7,1368.8 L1413.2,1383.8 L1398.2,1383.8 Z" fill="#4F8F00"/>
<path d="M897.2,1578.6 L905.2,1586.6 L897.2,1594.6 L889.2,1586.6 Z" fill="#9437FF"/>
<path d="M982.0,1551.2 L990.0,1559.2 L982.0,1567.2 L974.0,1559.2 Z" fill="#9437FF"/>
<path d="M1066.7,1539.9 L1074.7,1547.9 L1066.7,1555.9 L1058.7,1547.9 Z" fill="#9437FF"/>
<path d="M1151.5,1539.9 L1159.5,1547.9 L1151.5,1555.9 L1143.5,1547.9 Z" fill="#9437FF"/>
<path d="M1236.2,1539.9 L1244.2,1547.9 L1236.2,1555.9 L1228.2,1547.9 Z" fill="#9437FF"/>
<path d="M1321.0,1494.5 L1329.0,1502.5 L1321.0,1510.5 L1313.0,1502.5 Z" fill="#9437FF"/>
<path d="M1405.7,1430.6 L1413.7,1438.6 L1405.7,1446.6 L1397.7,1438.6 Z" fill="#9437FF"/>
<rect x="890.1" y="1579.5" width="14.2" height="14.2" fill="#FF2600"/>
<rect x="974.9" y="1552.1" width="14.2" height="14.2" fill="#FF2600"/>
<rect x="1059.6" y="1541.9" width="14.2" height="14.2" fill="#FF2600"/>
<rect x="1144.4" y="1537.7" width="14.2" height="14.2" fill="#FF2600"/>
<rect x="1229.1" y="1527.4" width="14.2" height="14.2" fill="#FF2600"/>
<rect x="1313.9" y="1484.4" width="14.2" height="14.2" fill="#FF2600"/>
<rect x="1398.6" y="1443.9" width="14.2" height="14.2" fill="#FF2600"/>
<circle cx="897.2" cy="1586.6" r="7.4" fill="#0433FF"/>
<circle cx="982.0" cy="1557.3" r="7.4" fill="#0433FF"/>
<circle cx="1066.7" cy="1546.0" r="7.4" fill="#0433FF"/>
<circle cx="1151.5" cy="1529.4" r="7.4" fill="#0433FF"/>
<circle cx="1236.2" cy="1509.7" r="7.4" fill="#0433FF"/>
<circle cx="1321.0" cy="1453.8" r="7.4" fill="#0433FF"/>
<circle cx="1405.7" cy="1408.6" r="7.4" fill="#0433FF"/>
<text transform="translate(809.8,1385.2) rotate(-90)" font-size="19.2" font-weight="bold" text-anchor="middle" fill="#000">Tumor size (mm<tspan font-size="14" dy="-6.5">2</tspan><tspan dy="6.5">)</tspan></text>
<text x="1151.90" y="1641.30" font-size="17.6" font-weight="bold" text-anchor="middle" fill="#000" textLength="108.3" lengthAdjust="spacingAndGlyphs" >Days post TC</text>
<line x1="904.40" y1="1233.00" x2="941.20" y2="1233.00" stroke="#0433FF" stroke-width="5.2" stroke-linecap="round" />
<circle cx="922.8" cy="1233.0" r="12.0" fill="#0433FF"/>
<text x="962.80" y="1243.30" font-size="29.3" font-weight="normal" text-anchor="start" fill="#000" textLength="88" lengthAdjust="spacingAndGlyphs" >Control</text>
<line x1="902.40" y1="1283.20" x2="939.20" y2="1283.20" stroke="#FF2600" stroke-width="5.2" stroke-linecap="round" />
<rect x="908.8" y="1271.2" width="24.0" height="24.0" fill="#FF2600"/>
<text x="960.30" y="1293.50" font-size="29.3" font-weight="normal" text-anchor="start" fill="#000" textLength="100.9" lengthAdjust="spacingAndGlyphs" >αTGFβ1</text>
<line x1="902.40" y1="1331.60" x2="939.20" y2="1331.60" stroke="#4F8F00" stroke-width="5.2" stroke-linecap="round" />
<path d="M920.8,1319.6 L932.8,1344.0 L908.8,1344.0 Z" fill="#4F8F00"/>
<text x="960.30" y="1341.90" font-size="29.3" font-weight="normal" text-anchor="start" fill="#000" textLength="102.9" lengthAdjust="spacingAndGlyphs" >αTGFβ3</text>
<line x1="904.40" y1="1381.00" x2="941.20" y2="1381.00" stroke="#9437FF" stroke-width="5.2" stroke-linecap="round" />
<path d="M922.8,1368.9 L934.9,1381.0 L922.8,1393.1 L910.7,1381.0 Z" fill="#9437FF"/>
<text x="963.80" y="1391.30" font-size="29.3" font-weight="normal" text-anchor="start" fill="#000" textLength="59" lengthAdjust="spacingAndGlyphs" >1D11</text>
<path d="M1071.5,1230.5 C1089,1230.5 1097,1230.8 1097,1235.5 L1097,1278 C1097,1282.7 1089,1283 1071.5,1284.5" fill="none" stroke="#000" stroke-width="2.2" filter="url(#sh2)"/>
<path d="M1111.00,1253.10 L1111.00,1260.90 M1107.62,1255.05 L1114.38,1258.95 M1114.38,1255.05 L1107.62,1258.95 " stroke="#000" stroke-width="1.9" stroke-linecap="round"/>
<path d="M1108.5,1230.5 C1127,1230.5 1135,1230.8 1135,1235.5 L1135,1379 C1135,1383.7 1127,1384 1108.5,1385.5" fill="none" stroke="#000" stroke-width="2.2" filter="url(#sh2)"/>
<path d="M1147.50,1297.70 L1147.50,1305.50 M1144.12,1299.65 L1150.88,1303.55 M1150.88,1299.65 L1144.12,1303.55 " stroke="#000" stroke-width="1.9" stroke-linecap="round"/>
</svg></body></html>
